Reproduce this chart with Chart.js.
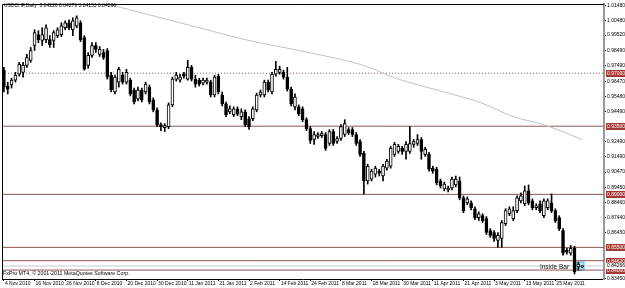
<!DOCTYPE html>
<html>
<head>
<meta charset="utf-8">
<script src="https://cdn.jsdelivr.net/npm/chart.js@4.4.1/dist/chart.umd.min.js"></script>
<style>
  html, body { margin: 0; padding: 0; background: #fff; }
  #c { display: block; }
</style>
</head>
<body>
<canvas id="c" width="625" height="288"></canvas>
<script>
// USDCHF daily candles
const opens = [
  .9720,.9615,.9622,.9654,.9693,.9706,.9752,.9785,.9883,.9955,
  .9916,.9922,.9922,.9916,.9948,.9955,1.0000,1.0033,.9987,1.0013,
  1.0033,.9935,.9752,.9818,.9883,.9824,.9837,.9850,.9687,.9576,
  .9641,.9687,.9641,.9654,.9589,.9530,.9589,.9576,.9608,.9524,
  .9458,.9360,.9341,.9347,.9491,.9661,.9654,.9693,.9661,.9739,
  .9661,.9654,.9635,.9641,.9641,.9556,.9680,.9556,.9497,.9445,
  .9426,.9465,.9413,.9445,.9399,.9399,.9458,.9556,.9556,.9641,
  .9576,.9693,.9706,.9706,.9674,.9595,.9478,.9478,.9465,.9393,
  .9334,.9262,.9282,.9288,.9295,.9236,.9315,.9249,.9269,.9295,
  .9328,.9328,.9295,.9249,.9171,.8988,.9001,.9034,.9053,.9021,
  .9073,.9086,.9164,.9184,.9204,.9184,.9184,.9230,.9236,.9262,
  .9164,.9164,.9073,.9066,.8988,.8936,.8929,.8942,.8962,.8988,
  .8877,.8844,.8844,.8805,.8746,.8759,.8740,.8661,.8648,.8596,
  .8609,.8707,.8772,.8740,.8792,.8857,.8838,.8923,.8857,.8812,
  .8838,.8759,.8812,.8844,.8792,.8746,.8661,.8531,.8511,.8544,
  .8420,.84226
];
const highs = [
  .9739,.9641,.9667,.9706,.9772,.9772,.9824,.9870,.9987,.9981,
  1.0000,1.0020,.9948,.9981,1.0000,1.0033,1.0046,1.0053,1.0066,1.0079,
  1.0046,.9948,.9837,.9902,.9902,.9876,.9857,.9863,.9706,.9687,
  .9739,.9706,.9726,.9667,.9602,.9608,.9602,.9641,.9622,.9537,
  .9471,.9373,.9367,.9504,.9674,.9706,.9693,.9706,.9785,.9752,
  .9687,.9667,.9667,.9667,.9654,.9687,.9693,.9576,.9510,.9484,
  .9478,.9478,.9465,.9458,.9413,.9478,.9569,.9589,.9654,.9654,
  .9706,.9778,.9746,.9720,.9739,.9608,.9563,.9491,.9478,.9406,
  .9347,.9315,.9308,.9315,.9308,.9328,.9328,.9282,.9360,.9393,
  .9341,.9341,.9308,.9262,.9184,.9099,.9066,.9086,.9066,.9099,
  .9132,.9217,.9243,.9230,.9217,.9249,.9347,.9262,.9295,.9275,
  .9210,.9177,.9086,.9079,.9001,.8981,.8955,.9014,.9021,.9014,
  .8890,.8883,.8857,.8818,.8785,.8772,.8753,.8674,.8661,.8648,
  .8727,.8805,.8818,.8818,.8890,.8910,.8955,.8962,.8870,.8838,
  .8857,.8870,.8870,.8903,.8805,.8759,.8674,.8544,.8563,.8557,
  .8452,.84279
];
const lows = [
  .9576,.9563,.9602,.9641,.9680,.9674,.9739,.9772,.9850,.9902,
  .9883,.9902,.9870,.9870,.9935,.9942,.9987,.9987,.9948,1.0000,
  .9909,.9720,.9733,.9804,.9837,.9811,.9791,.9661,.9576,.9563,
  .9608,.9628,.9628,.9550,.9497,.9517,.9510,.9563,.9497,.9445,
  .9347,.9321,.9315,.9334,.9478,.9648,.9641,.9667,.9654,.9648,
  .9608,.9615,.9622,.9628,.9543,.9543,.9563,.9484,.9413,.9432,
  .9413,.9419,.9393,.9347,.9328,.9386,.9445,.9543,.9543,.9576,
  .9563,.9680,.9693,.9661,.9582,.9484,.9458,.9419,.9380,.9321,
  .9236,.9230,.9269,.9275,.9190,.9223,.9223,.9236,.9256,.9282,
  .9295,.9282,.9223,.9151,.8903,.8968,.8988,.9014,.9021,.8988,
  .9060,.9073,.9151,.9171,.9164,.9132,.9171,.9210,.9223,.9132,
  .9151,.9053,.9040,.8962,.8942,.8923,.8916,.8929,.8949,.8864,
  .8779,.8831,.8798,.8733,.8727,.8714,.8635,.8616,.8589,.8550,
  .8550,.8694,.8759,.8727,.8779,.8844,.8825,.8831,.8798,.8798,
  .8779,.8746,.8798,.8779,.8714,.8661,.8498,.8505,.8498,.8374,
  .8400,.84153
];
const closes = [
  .9608,.9595,.9654,.9687,.9759,.9752,.9804,.9850,.9968,.9922,
  .9955,1.0000,.9889,.9968,.9987,1.0013,1.0033,1.0000,1.0046,1.0066,
  .9922,.9726,.9818,.9883,.9857,.9857,.9804,.9674,.9589,.9674,
  .9726,.9641,.9706,.9563,.9510,.9589,.9524,.9628,.9510,.9458,
  .9360,.9347,.9354,.9491,.9661,.9687,.9674,.9680,.9739,.9661,
  .9628,.9628,.9654,.9654,.9556,.9674,.9576,.9497,.9426,.9465,
  .9465,.9432,.9445,.9360,.9347,.9465,.9556,.9576,.9641,.9589,
  .9693,.9726,.9726,.9674,.9595,.9497,.9543,.9432,.9393,.9334,
  .9256,.9295,.9295,.9302,.9204,.9315,.9236,.9269,.9347,.9367,
  .9308,.9295,.9236,.9164,.8988,.9086,.9053,.9073,.9040,.9086,
  .9119,.9204,.9230,.9217,.9184,.9230,.9236,.9249,.9262,.9184,
  .9197,.9066,.9053,.8975,.8955,.8968,.8942,.9001,.9001,.8877,
  .8792,.8870,.8812,.8746,.8772,.8727,.8648,.8629,.8609,.8629,
  .8714,.8792,.8805,.8792,.8877,.8890,.8923,.8844,.8812,.8825,
  .8792,.8857,.8857,.8792,.8727,.8674,.8511,.8518,.8544,.8387,
  .8439,.84266
];

// moving average, sampled where it can be read
const maIdx = [24, 28, 51, 64, 77, 93, 103, 124, 133, 141, 151];
const maVals = [1.0178, 1.0151, 1.0000, .9916, .9850, .9759, .9661, .9510, .9413, .9360, .9262];

// x axis labels, one every 8 bars
const dateIdx = [0, 8, 16, 24, 32, 40, 48, 56, 64, 72, 80, 88, 96, 104, 112, 120, 128, 136, 144];
const dateLabels = ['4 Nov 2010', '16 Nov 2010', '26 Nov 2010', '8 Dec 2010', '20 Dec 2010',
  '30 Dec 2010', '11 Jan 2011', '21 Jan 2011', '2 Feb 2011', '14 Feb 2011', '24 Feb 2011',
  '8 Mar 2011', '18 Mar 2011', '30 Mar 2011', '11 Apr 2011', '21 Apr 2011', '3 May 2011',
  '13 May 2011', '25 May 2011'];

// price axis
const priceTicks = [1.0148, 1.0048, 0.9952, 0.9849, 0.9749, 0.9647, 0.9548, 0.9449,
  0.9249, 0.9149, 0.9047, 0.8945, 0.8846, 0.8744, 0.8645, 0.8345];
const levelSolid = [0.935, 0.89, 0.855, 0.8462, 0.84];
const levelDotted = [0.97];
const bidPrice = 0.84266;
const insideBars = [150, 151];

const title = 'USDCHF,Daily  0.84226 0.84279 0.84153 0.84266';
const copyright = 'FxPro MT4, \u00a9 2001-2011 MetaQuotes Software Corp.';
const insideText = 'Inside Bar';

const X_MIN = -0.5, X_MAX = 156.7;
const FONT = '"Liberation Sans", Arial, sans-serif';

const bodies = opens.map((o, i) => ({ x: i, y: [Math.min(o, closes[i]), Math.max(o, closes[i])] }));
const wicks = highs.map((h, i) => ({ x: i, y: [lows[i], h] }));
const bodyColors = opens.map((o, i) => closes[i] >= o ? '#ffffff' : '#000000');

function hLine(v, color, dash, order) {
  return {
    type: 'line',
    data: [{ x: X_MIN, y: v }, { x: X_MAX, y: v }],
    borderColor: color,
    borderWidth: 1,
    borderDash: dash,
    pointRadius: 0,
    order: order
  };
}

const datasets = [
  { type: 'bar', data: bodies, backgroundColor: bodyColors, borderColor: '#000', borderWidth: 1,
    borderSkipped: false, barThickness: 3, minBarLength: 1, grouped: false, order: 0 },
  { type: 'bar', data: wicks, backgroundColor: '#000', borderWidth: 0,
    barThickness: 1, grouped: false, order: 1 },
  { type: 'line', data: maIdx.map((v, i) => ({ x: v, y: maVals[i] })), borderColor: '#c4c0c0',
    borderWidth: 1, pointRadius: 0, tension: 0.3, order: 2 },
  hLine(bidPrice, '#c8c8c8', [], 3)
];
levelSolid.forEach(v => datasets.push(hLine(v, '#8e5656', [], 3)));
levelDotted.forEach(v => datasets.push(hLine(v, '#8e5656', [1, 2], 3)));

const decorations = {
  id: 'decorations',
  beforeDatasetsDraw(chart) {
    const { ctx, scales: { x, y } } = chart;
    // cyan box round the inside bar
    const hi = Math.max(...insideBars.map(i => highs[i]));
    const lo = Math.min(...insideBars.map(i => lows[i]));
    const x0 = x.getPixelForValue(insideBars[0] - 0.6);
    const x1 = x.getPixelForValue(insideBars[insideBars.length - 1] + 0.6);
    const y0 = y.getPixelForValue(hi + 0.0004);
    const y1 = y.getPixelForValue(lo - 0.0004);
    ctx.save();
    ctx.fillStyle = 'rgba(150,230,240,0.8)';
    ctx.fillRect(x0, y0, x1 - x0, y1 - y0);
    ctx.strokeStyle = '#58c8dc';
    ctx.lineWidth = 1;
    ctx.strokeRect(x0 + 0.5, y0 + 0.5, x1 - x0 - 1, y1 - y0 - 1);
    ctx.restore();
  },
  afterDraw(chart) {
    const { ctx, chartArea: a, scales: { x, y } } = chart;
    ctx.save();
    // frame
    ctx.strokeStyle = '#000';
    ctx.lineWidth = 1;
    ctx.beginPath();
    ctx.moveTo(a.left + 0.5, a.bottom);
    ctx.lineTo(a.left + 0.5, a.top + 0.5);
    ctx.lineTo(a.right, a.top + 0.5);
    ctx.stroke();

    // date labels, left aligned on their tick
    ctx.fillStyle = '#000';
    ctx.font = '5px ' + FONT;
    ctx.textBaseline = 'middle';
    ctx.textAlign = 'left';
    dateIdx.forEach((v, i) => {
      ctx.fillText(dateLabels[i], x.getPixelForValue(v) + 1, a.bottom + 5);
    });

    // price markers on the right axis
    levelDotted.concat(levelSolid).forEach(v => {
      const py = Math.round(y.getPixelForValue(v));
      ctx.fillStyle = '#a33a36';
      ctx.fillRect(a.right + 2, py - 3, 19, 7);
      ctx.fillStyle = '#fff';
      ctx.fillText(v.toFixed(5), a.right + 3, py + 0.5);
    });
    const pb = Math.round(y.getPixelForValue(bidPrice));
    ctx.fillStyle = '#fff';
    ctx.fillRect(a.right + 2, pb - 3, 19, 6);
    ctx.fillStyle = '#000';
    ctx.fillText(bidPrice.toFixed(5), a.right + 3, pb);

    // texts
    ctx.fillStyle = '#000';
    ctx.font = '5px ' + FONT;
    ctx.fillText(title, 4, 6);
    ctx.font = '5.3px ' + FONT;
    ctx.fillText(copyright, 3, a.bottom - 5);
    ctx.font = '6.5px ' + FONT;
    ctx.textAlign = 'right';
    ctx.fillStyle = '#222';
    ctx.fillText(insideText, x.getPixelForValue(insideBars[0] - 2.4), y.getPixelForValue(bidPrice) + 1);
    ctx.restore();
  }
};

new Chart(document.getElementById('c'), {
  type: 'bar',
  data: { datasets: datasets },
  options: {
    responsive: false,
    animation: false,
    layout: { padding: { left: 2, top: 1, right: 0, bottom: 0 } },
    plugins: { legend: { display: false }, tooltip: { enabled: false } },
    scales: {
      x: {
        type: 'linear',
        offset: false,
        min: X_MIN,
        max: X_MAX,
        afterBuildTicks: s => { s.ticks = dateIdx.map(v => ({ value: v })); },
        afterFit: s => { s.height = 9; },
        ticks: { display: false },
        grid: { offset: false, drawOnChartArea: false, tickLength: 2, color: '#000' },
        border: { color: '#000', width: 1 }
      },
      y: {
        position: 'right',
        min: 0.8341,
        max: 1.0157,
        afterBuildTicks: s => { s.ticks = priceTicks.map(v => ({ value: v })); },
        afterFit: s => { s.width = 21; },
        ticks: {
          callback: v => v.toFixed(5),
          padding: 1, color: '#000',
          font: { family: FONT, size: 5 }
        },
        grid: { drawOnChartArea: false, tickLength: 2, color: '#000' },
        border: { color: '#999', width: 2 }
      }
    }
  },
  plugins: [decorations]
});
</script>
</body>
</html>
